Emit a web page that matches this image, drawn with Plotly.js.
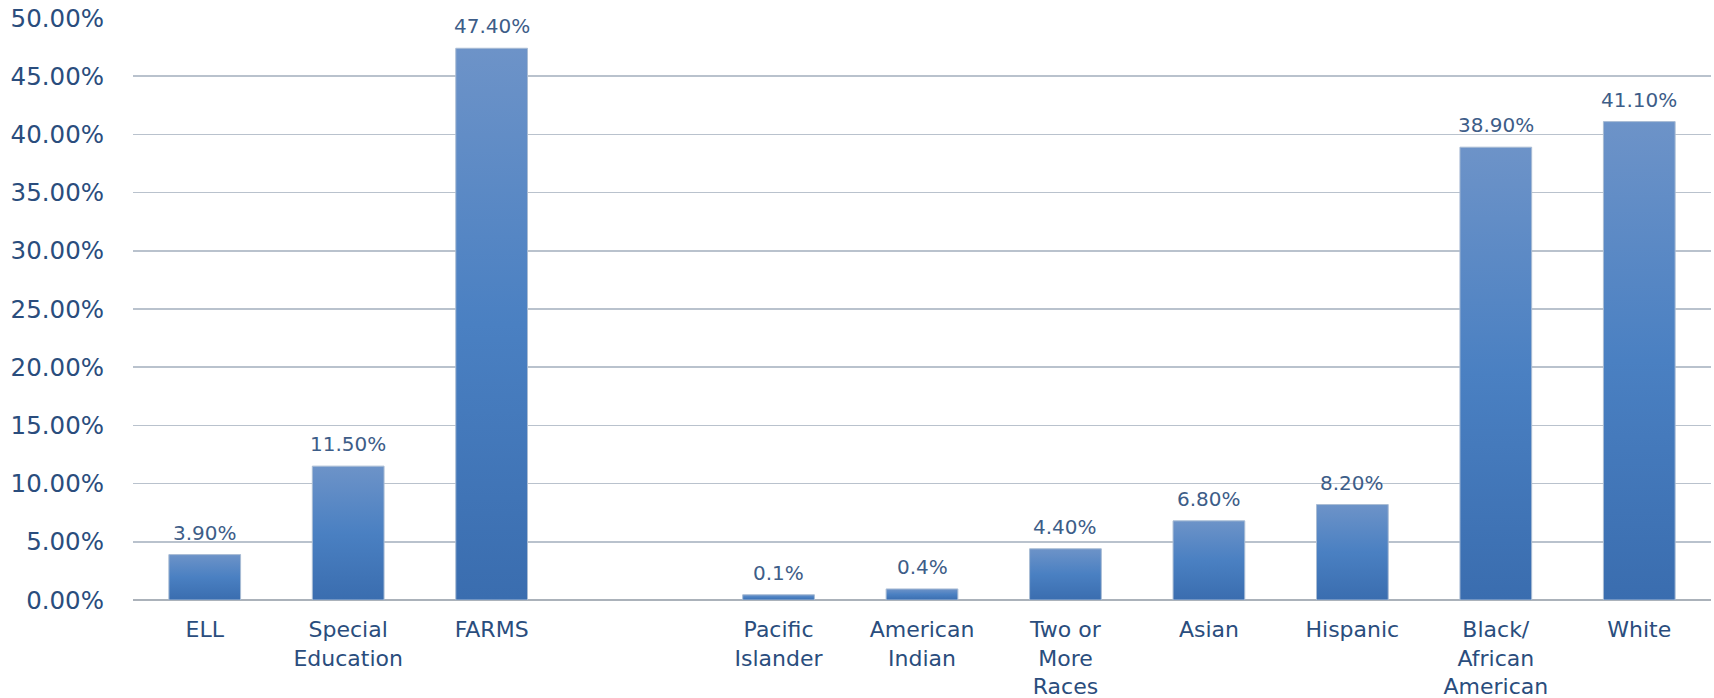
<!DOCTYPE html>
<html>
<head>
<meta charset="utf-8">
<script src="https://cdn.plot.ly/plotly-3.0.1.min.js"></script>
<style>
html,body{margin:0;padding:0;background:#fff;}
#chart{width:1714px;height:698px;}
</style>
</head>
<body>
<div id="chart"></div>
<script>
// Categories (a blank slot separates the two groups)
const categories = ['ELL', 'Special<br>Education', 'FARMS', ' ',
  'Pacific<br>Islander', 'American<br>Indian', 'Two or<br>More<br>Races',
  'Asian', 'Hispanic', 'Black/<br>African<br>American', 'White'];
// Bar heights as drawn (percent)
const values = [3.9, 11.5, 47.4, null, 0.45, 0.95, 4.4, 6.8, 8.2, 38.9, 41.1];
// Data labels as printed
const labels = ['3.90%', '11.50%', '47.40%', '', '0.1%', '0.4%', '4.40%', '6.80%', '8.20%', '38.90%', '41.10%'];
const yTicks = [0, 5, 10, 15, 20, 25, 30, 35, 40, 45, 50];
const yTickText = ['0.00%', '5.00%', '10.00%', '15.00%', '20.00%', '25.00%', '30.00%', '35.00%', '40.00%', '45.00%', '50.00%'];

const labelColor = '#2a4d7d';
const font = 'DejaVu Sans, Verdana, sans-serif';

const annotations = [];
categories.forEach((c, i) => {
  if (values[i] === null) return;
  annotations.push({
    x: c, y: values[i], xref: 'x', yref: 'y', text: labels[i],
    showarrow: false, yanchor: 'bottom', yshift: 8,
    font: {family: font, size: 20, color: '#3d5d88'}
  });
});

const trace = {
  type: 'bar', x: categories, y: values, width: 0.5,
  marker: {color: '#4a7fc1', line: {color: '#a9bcd4', width: 1}},
  hoverinfo: 'none'
};

const layout = {
  width: 1714, height: 698,
  margin: {l: 133, r: 3, t: 18, b: 98},
  paper_bgcolor: '#ffffff', plot_bgcolor: '#ffffff',
  showlegend: false,
  bargap: 0.5,
  xaxis: {
    type: 'category', categoryorder: 'array', categoryarray: categories,
    showgrid: false, zeroline: false, showline: false, ticks: '',
    ticklabelstandoff: 14,
    tickfont: {family: font, size: 22, color: labelColor}
  },
  yaxis: {
    range: [0, 50], tickmode: 'array', tickvals: yTicks, ticktext: yTickText,
    showgrid: true, gridcolor: '#b9c2cd', gridwidth: 1.5,
    zeroline: true, zerolinecolor: '#abb2ba', zerolinewidth: 2,
    showline: false, ticks: '', ticklabelstandoff: 28,
    tickfont: {family: font, size: 24.5, color: labelColor}
  },
  annotations: annotations
};

Plotly.newPlot('chart', [trace], layout, {displayModeBar: false, staticPlot: true}).then(() => {
  const svg = document.querySelector('#chart .main-svg');
  const ns = 'http://www.w3.org/2000/svg';
  let defs = svg.querySelector('defs');
  if (!defs) { defs = document.createElementNS(ns, 'defs'); svg.insertBefore(defs, svg.firstChild); }
  const g = document.createElementNS(ns, 'linearGradient');
  g.setAttribute('id', 'barGrad');
  g.setAttribute('x1', '0'); g.setAttribute('y1', '0');
  g.setAttribute('x2', '0'); g.setAttribute('y2', '1');
  [['0', '#6d93c8'], ['0.5', '#4a80c2'], ['1', '#3a6daf']].forEach(([o, c]) => {
    const s = document.createElementNS(ns, 'stop');
    s.setAttribute('offset', o); s.setAttribute('stop-color', c);
    g.appendChild(s);
  });
  defs.appendChild(g);
  document.querySelectorAll('#chart .bars .point path').forEach(p => {
    p.style.fill = 'url(#barGrad)';
  });
});
</script>
</body>
</html>
